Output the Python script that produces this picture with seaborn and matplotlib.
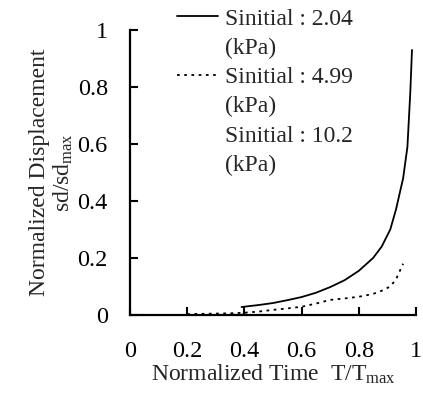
import numpy as np
import pandas as pd
import seaborn as sns
import matplotlib.pyplot as plt
from matplotlib.lines import Line2D

# --- data ---
t_204 = [0.39, 0.45, 0.50, 0.55, 0.60, 0.65, 0.70, 0.75, 0.80, 0.85, 0.88, 0.91, 0.93, 0.955, 0.97, 0.98, 0.986]
d_204 = [0.028, 0.035, 0.042, 0.052, 0.063, 0.078, 0.098, 0.122, 0.155, 0.20, 0.24, 0.30, 0.37, 0.48, 0.59, 0.78, 0.93]

t_499 = [0.20, 0.25, 0.30, 0.35, 0.40, 0.45, 0.50, 0.55, 0.60, 0.65, 0.70, 0.75, 0.80, 0.85, 0.88, 0.91, 0.93, 0.955]
d_499 = [0.003, 0.004, 0.005, 0.006, 0.008, 0.012, 0.018, 0.023, 0.029, 0.040, 0.053, 0.058, 0.064, 0.074, 0.085, 0.100, 0.125, 0.180]

t_102 = [0.20, 0.30, 0.40]
d_102 = [0.002, 0.002, 0.003]

labels = ['Sinitial : 2.04', 'Sinitial : 4.99', 'Sinitial : 10.2']
unit = '(kPa)'
x_ticks = [0, 0.2, 0.4, 0.6, 0.8, 1]
x_ticklabels = ['0', '0.2', '0.4', '0.6', '0.8', '1']
y_ticks = [0, 0.2, 0.4, 0.6, 0.8, 1]
y_ticklabels = ['0', '0.2', '0.4', '0.6', '0.8', '1']

sns.set_style('ticks')
plt.rcParams['font.family'] = ['Liberation Serif', 'DejaVu Serif']
plt.rcParams['mathtext.fontset'] = 'custom'
plt.rcParams['mathtext.rm'] = 'Liberation Serif'
plt.rcParams['mathtext.it'] = 'Liberation Serif:italic'

fig = plt.figure(figsize=(4.23, 3.97), dpi=100)
ax = fig.add_axes([130 / 423, 1 - 315 / 397, 286 / 423, 285 / 397])

sns.lineplot(x=t_204, y=d_204, ax=ax, color='black', lw=1.3)
sns.lineplot(x=t_499, y=d_499, ax=ax, color='black', lw=1.3, linestyle=(0, (1.5, 2.5)))
sns.lineplot(x=t_102, y=d_102, ax=ax, color='black', lw=0.6, linestyle=(0, (2, 3)))

ax.set_xlim(0, 1)
ax.set_ylim(0, 1)
ax.set_xticks(x_ticks)
ax.set_xticklabels(x_ticklabels)
ax.set_yticks(y_ticks)
ax.set_yticklabels(y_ticklabels)
ax.tick_params(direction='in', length=6, width=1.5, labelsize=17.5, colors='black')
ax.tick_params(axis='x', pad=19)
ax.tick_params(axis='y', pad=16)
for s in ['top', 'right']:
    ax.spines[s].set_visible(False)
for s in ['left', 'bottom']:
    ax.spines[s].set_linewidth(1.6)
    ax.spines[s].set_color('black')

ax.set_xlabel('Normalized Time  T/T$_{\\mathrm{max}}$', fontsize=17, labelpad=0)
ax.set_ylabel('Normalized Displacement\nsd/sd$_{\\mathrm{max}}$', fontsize=17, labelpad=2, linespacing=1.05)

# legend: handle on the first line, unit on its own row
blank = Line2D([], [], color='none')
handles = [
    Line2D([], [], color='black', lw=1.3), blank,
    Line2D([], [], color='black', lw=1.3, linestyle=(0, (1.5, 2.5))), blank,
    Line2D([], [], color='none'), blank,
]
leg_labels = [labels[0], unit, labels[1], unit, labels[2], unit]
leg = ax.legend(handles, leg_labels, loc='upper left', bbox_to_anchor=(177 / 423, 1 - 8 / 397),
                bbox_transform=fig.transFigure, frameon=False, fontsize=17,
                handlelength=1.75, handletextpad=0.3, labelspacing=0.33,
                borderpad=0, borderaxespad=0)

fig.savefig('out.png', dpi=100)
